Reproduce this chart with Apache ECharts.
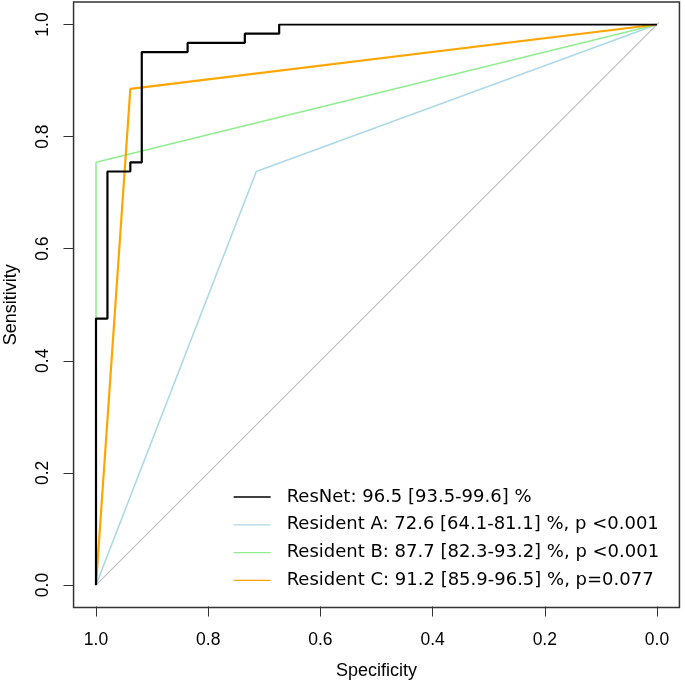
<!DOCTYPE html>
<html>
<head>
<meta charset="utf-8">
<script src="https://cdn.jsdelivr.net/npm/echarts@6/dist/echarts.min.js"></script>
<style>html,body{margin:0;padding:0;background:#fff}#c{width:685px;height:685px}</style>
</head>
<body>
<div id="c"></div>
<script>
// Data
const seriesNames = [
  'ResNet: 96.5 [93.5-99.6] %',
  'Resident A: 72.6 [64.1-81.1] %, p <0.001',
  'Resident B: 87.7 [82.3-93.2] %, p <0.001',
  'Resident C: 91.2 [85.9-96.5] %, p=0.077'
];
const resnetSpec = [1, 1, 0.9796, 0.9796, 0.9388, 0.9388, 0.9184, 0.9184, 0.8367, 0.8367, 0.7347, 0.7347, 0.6735, 0.6735, 0];
const resnetSens = [0, 0.4754, 0.4754, 0.7377, 0.7377, 0.7541, 0.7541, 0.9508, 0.9508, 0.9672, 0.9672, 0.9836, 0.9836, 1, 1];
const residentASpec = [1, 0.7143, 0];
const residentASens = [0, 0.7377, 1];
const residentBSpec = [1, 1, 0];
const residentBSens = [0, 0.7541, 1];
const residentCSpec = [1, 0.9388, 0];
const residentCSens = [0, 0.8852, 1];
const diagSpec = [1.04, -0.04];
const diagSens = [-0.04, 1.04];

const zip = (a, b) => a.map((v, i) => [v, b[i]]);
const chart = echarts.init(document.getElementById('c'), null, {renderer: 'canvas'});
const axisColor = '#333';
const lbl = {fontFamily: 'Liberation Sans, Arial, sans-serif', fontSize: 17.5, color: '#000'};

const mkLine = (name, data, color, width) => ({
  name, type: 'line', data, symbol: 'none', showSymbol: false,
  lineStyle: {color, width}, itemStyle: {color}, silent: true, z: 3
});

chart.setOption({
  animation: false,
  backgroundColor: '#fff',
  grid: {left: 96, top: 24.5, width: 561, height: 560.5, containLabel: false, outerBoundsMode: 'none'},
  xAxis: {
    type: 'value', min: 0, max: 1, interval: 0.2, inverse: true, offset: 21.5,
    axisLine: {show: false, onZero: false},
    axisTick: {show: true, inside: false, length: 10, lineStyle: {color: axisColor, width: 1}},
    axisLabel: Object.assign({margin: 25, formatter: v => v.toFixed(1)}, lbl),
    splitLine: {show: false},
    name: 'Specificity', nameLocation: 'middle', nameGap: 56,
    nameTextStyle: {fontFamily: 'Liberation Sans, Arial, sans-serif', fontSize: 18, color: '#000'}
  },
  yAxis: {
    type: 'value', min: 0, max: 1, interval: 0.2, offset: 22.5,
    axisLine: {show: false, onZero: false},
    axisTick: {show: true, inside: false, length: 10, lineStyle: {color: axisColor, width: 1}},
    axisLabel: Object.assign({margin: 21.5, rotate: 90, formatter: v => v.toFixed(1)}, lbl),
    splitLine: {show: false},
    name: 'Sensitivity', nameLocation: 'middle', nameGap: 53.5,
    nameTextStyle: {fontFamily: 'Liberation Sans, Arial, sans-serif', fontSize: 18, color: '#000'}
  },
  legend: {
    data: seriesNames,
    orient: 'vertical', left: 228, top: 482,
    itemWidth: 37, itemHeight: 14, itemGap: 7.8,
    selectedMode: false,
    lineStyle: {width: 1.3},
    itemStyle: {opacity: 0},
    textStyle: {fontFamily: 'DejaVu Sans', fontSize: 18, color: '#000', lineHeight: 20, padding: [0, 0, 0, 11]}
  },
  series: [
    {type: 'line', data: zip(diagSpec, diagSens), symbol: 'none', clip: false, silent: true,
     lineStyle: {color: '#BEBEBE', width: 1.2}, z: 1},
    mkLine(seriesNames[1], zip(residentASpec, residentASens), '#ADD8E6', 1.6),
    mkLine(seriesNames[2], zip(residentBSpec, residentBSens), '#90EE90', 1.6),
    mkLine(seriesNames[3], zip(residentCSpec, residentCSens), '#FFA500', 2.2),
    mkLine(seriesNames[0], zip(resnetSpec, resnetSens), '#000000', 2.2)
  ]
});

// Plot box spanning the R-style 4% extended range
const p1 = chart.convertToPixel({gridIndex: 0}, [1.04, 1.04]);
const p2 = chart.convertToPixel({gridIndex: 0}, [-0.04, -0.04]);
chart.setOption({
  graphic: [{
    type: 'rect', silent: true, z: 10,
    shape: {x: Math.min(p1[0], p2[0]), y: Math.min(p1[1], p2[1]),
            width: Math.abs(p2[0] - p1[0]), height: Math.abs(p2[1] - p1[1])},
    style: {fill: 'none', stroke: axisColor, lineWidth: 1.5}
  }]
});
</script>
</body>
</html>
